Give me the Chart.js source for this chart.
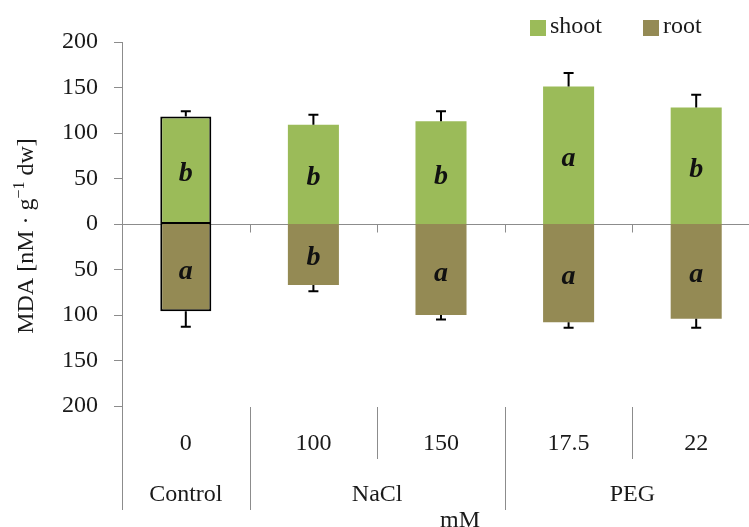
<!DOCTYPE html>
<html>
<head>
<meta charset="utf-8">
<script src="https://cdn.jsdelivr.net/npm/chart.js@4.4.1/dist/chart.umd.min.js"></script>
<style>
  html, body { margin: 0; padding: 0; background: #fff; overflow: hidden; }
  #wrap { position: relative; width: 760px; height: 527px; }
</style>
</head>
<body>
<div id="wrap"><canvas id="chart"></canvas></div>
<script>
// data
const doses = ['0', '100', '150', '17.5', '22'];
const groupNames = ['Control', 'NaCl', 'PEG'];
const groupStart = [0, 1, 3];
const groupEnd = [0, 2, 4];
const unitLabel = 'mM';

const shoot = [118, 109, 113, 151, 128];
const shootErr = [6, 11, 11, 15, 14];
const root = [96, 67, 100, 108, 104];
const rootErr = [17, 7, 5, 6, 10];
const shootLetters = ['b', 'b', 'b', 'a', 'b'];
const rootLetters = ['a', 'b', 'a', 'a', 'a'];

const yMin = -200, yMax = 200, yStep = 50;

const GREEN = '#9BBB59';
const OLIVE = '#948A54';
const SERIF = "'Liberation Serif', 'Times New Roman', serif";
const TEXT = '#1a1a1a';
const AXIS = '#8c8c8c';

const decor = {
  id: 'decor',
  beforeDatasetsDraw(chart) {
    const { ctx, chartArea: ca, scales: { x, y } } = chart;
    const zero = Math.round(y.getPixelForValue(0)) + 0.5;
    ctx.save();
    ctx.strokeStyle = AXIS;
    ctx.lineWidth = 1;
    ctx.beginPath();
    // zero line, including its tick on the value axis
    ctx.moveTo(ca.left - 8, zero);
    ctx.lineTo(ca.right, zero);
    // small category ticks on the zero line
    for (let i = 1; i < doses.length; i++) {
      const bx = Math.round((x.getPixelForValue(i - 1) + x.getPixelForValue(i)) / 2) + 0.5;
      ctx.moveTo(bx, zero);
      ctx.lineTo(bx, zero + 8);
    }
    ctx.stroke();
    ctx.restore();
  },
  afterDatasetsDraw(chart) {
    const { ctx, chartArea: ca, scales: { x, y } } = chart;
    ctx.save();

    // error bars
    ctx.strokeStyle = '#000';
    ctx.lineWidth = 2;
    const whisker = (cx, from, to) => {
      const y0 = y.getPixelForValue(from), y1 = y.getPixelForValue(to);
      ctx.beginPath();
      ctx.moveTo(cx, y0);
      ctx.lineTo(cx, y1);
      ctx.moveTo(cx - 5, y1);
      ctx.lineTo(cx + 5, y1);
      ctx.stroke();
    };
    doses.forEach((d, i) => {
      const cx = x.getPixelForValue(i);
      whisker(cx, shoot[i], shoot[i] + shootErr[i]);
      whisker(cx, -root[i], -root[i] - rootErr[i]);
    });

    // significance letters
    ctx.fillStyle = '#111';
    ctx.font = "italic bold 28px " + SERIF;
    ctx.textAlign = 'center';
    ctx.textBaseline = 'alphabetic';
    doses.forEach((d, i) => {
      const cx = x.getPixelForValue(i);
      const ms = (y.getPixelForValue(0) + y.getPixelForValue(shoot[i])) / 2;
      const mr = (y.getPixelForValue(0) + y.getPixelForValue(-root[i])) / 2;
      ctx.fillText(shootLetters[i], cx, ms + 11);
      ctx.fillText(rootLetters[i], cx, mr + 11);
    });

    // category axis below the plot
    const top = ca.bottom + 1;
    ctx.strokeStyle = AXIS;
    ctx.lineWidth = 1;
    ctx.beginPath();
    for (let b = 0; b <= doses.length; b++) {
      let bx;
      if (b === 0) bx = ca.left;
      else if (b === doses.length) bx = ca.right;
      else bx = (x.getPixelForValue(b - 1) + x.getPixelForValue(b)) / 2;
      bx = Math.round(bx) + 0.5;
      const isGroup = b === 0 || b === doses.length || groupStart.includes(b);
      ctx.moveTo(bx, b === 0 ? ca.bottom : top);
      ctx.lineTo(bx, isGroup ? 510 : 459);
    }
    ctx.stroke();

    ctx.fillStyle = TEXT;
    ctx.font = "24px " + SERIF;
    ctx.textAlign = 'center';
    ctx.textBaseline = 'alphabetic';
    doses.forEach((d, i) => ctx.fillText(d, x.getPixelForValue(i), 450));
    groupNames.forEach((g, k) => {
      const gx = (x.getPixelForValue(groupStart[k]) + x.getPixelForValue(groupEnd[k])) / 2;
      ctx.fillText(g, gx, 501);
    });
    ctx.fillText(unitLabel, 460, 527);

    // y axis title
    ctx.save();
    ctx.translate(33, 236);
    ctx.rotate(-Math.PI / 2);
    const partA = 'MDA [nM · g', partSup = '\u22121', partB = ' dw]';
    ctx.font = "24px " + SERIF;
    const wA = ctx.measureText(partA).width, wB = ctx.measureText(partB).width;
    ctx.font = "16px " + SERIF;
    const wS = ctx.measureText(partSup).width;
    let tx = -(wA + wS + wB) / 2;
    ctx.textAlign = 'left';
    ctx.font = "24px " + SERIF;
    ctx.fillText(partA, tx, 0);
    tx += wA;
    ctx.font = "16px " + SERIF;
    ctx.fillText(partSup, tx, -9);
    tx += wS;
    ctx.font = "24px " + SERIF;
    ctx.fillText(partB, tx, 0);
    ctx.restore();

    // legend
    ctx.font = "24px " + SERIF;
    ctx.textBaseline = 'middle';
    ctx.textAlign = 'left';
    const legendItems = chart.data.datasets.map(ds => ({ label: ds.label, color: ds.backgroundColor }));
    const legendX = [530, 643];
    legendItems.forEach((it, k) => {
      ctx.fillStyle = it.color;
      ctx.fillRect(legendX[k], 20, 16, 16);
      ctx.fillStyle = TEXT;
      ctx.fillText(it.label, legendX[k] + 20, 27);
    });

    ctx.restore();
  }
};

const ctx = document.getElementById('chart').getContext('2d');
new Chart(ctx, {
  type: 'bar',
  data: {
    labels: doses,
    datasets: [
      {
        label: 'shoot',
        data: shoot,
        backgroundColor: GREEN,
        borderColor: doses.map((d, i) => i === 0 ? '#000' : GREEN),
        borderWidth: doses.map((d, i) => i === 0 ? 2 : 0),
        borderSkipped: false,
        inflateAmount: 0
      },
      {
        label: 'root',
        data: root.map(v => -v),
        backgroundColor: OLIVE,
        borderColor: doses.map((d, i) => i === 0 ? '#000' : OLIVE),
        borderWidth: doses.map((d, i) => i === 0 ? 2 : 0),
        borderSkipped: 'start',
        inflateAmount: 0
      }
    ]
  },
  options: {
    responsive: true,
    maintainAspectRatio: false,
    animation: false,
    categoryPercentage: 1,
    barPercentage: 0.4,
    layout: { padding: { top: 42, bottom: 121, left: 0, right: 0 } },
    plugins: {
      legend: { display: false },
      tooltip: { enabled: false }
    },
    scales: {
      x: {
        stacked: true,
        display: false
      },
      y: {
        stacked: true,
        min: yMin,
        max: yMax,
        afterFit(scale) { scale.width = 122; },
        ticks: {
          stepSize: yStep,
          padding: 16,
          color: TEXT,
          font: { family: SERIF, size: 24 },
          callback: v => Math.abs(v)
        },
        grid: {
          drawOnChartArea: false,
          drawTicks: true,
          tickLength: 8,
          color: AXIS,
          // zero width at 0 so the stacked halves meet without a gap
          lineWidth: c => (c.tick && c.tick.value === 0) ? 0 : 1
        },
        border: { color: AXIS, width: 1 }
      }
    }
  },
  plugins: [decor]
});
</script>
</body>
</html>
